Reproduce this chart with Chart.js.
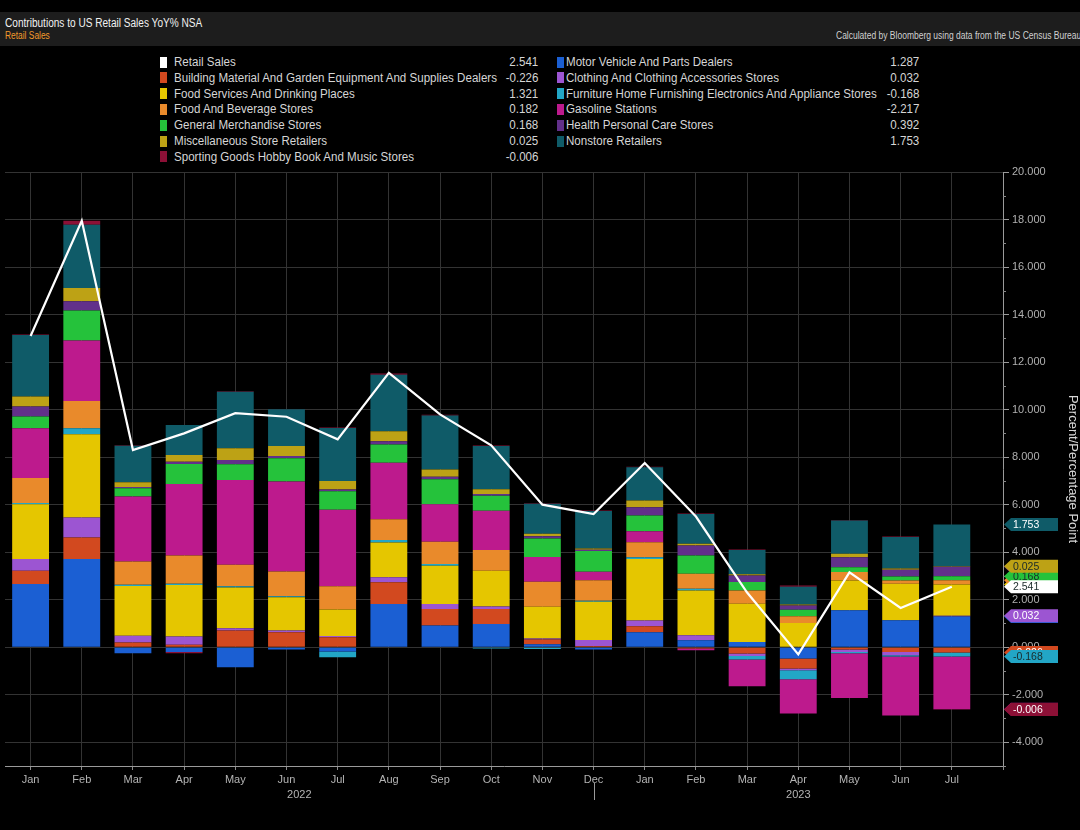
<!DOCTYPE html>
<html>
<head>
<meta charset="utf-8">
<script src="https://cdn.jsdelivr.net/npm/chart.js@4.4.0/dist/chart.umd.min.js"></script>
<style>
  html, body { margin: 0; padding: 0; background: #000; }
  #page { position: relative; width: 1080px; height: 830px; overflow: hidden; background: #000;
          font-family: 'Liberation Sans', Arial, sans-serif; }
  #head { position: absolute; left: 0; top: 12px; width: 1080px; height: 34px; background: #1d1d1d; overflow: hidden; }
  .narrow { display: inline-block; white-space: nowrap; transform-origin: left center; }
  #title { position: absolute; left: 5px; top: 4px; color: #f2f2f2; font-size: 12px; transform: scaleX(0.84); }
  #sub { position: absolute; left: 5px; top: 18px; color: #f39a2c; font-size: 10px; transform: scaleX(0.84); }
  #note { position: absolute; left: 836px; top: 18px; color: #d0d0d0; font-size: 10px; transform: scaleX(0.85); }
  .sw { position: absolute; width: 7px; height: 11px; }
  .lg { position: absolute; color: #d6d6d6; font-size: 12.5px; line-height: 14px; white-space: nowrap; }
  .lg.val { transform-origin: right center; }
  #box { position: absolute; left: 0; top: 160px; width: 1080px; height: 670px; }
</style>
</head>
<body>
<div id="page">
  <div id="head">
    <div id="title" class="narrow">Contributions to US Retail Sales YoY% NSA</div>
    <div id="sub" class="narrow">Retail Sales</div>
    <div id="note" class="narrow">Calculated by Bloomberg using data from the US Census Bureau</div>
  </div>
  <div id="legend"></div>
  <div id="box"><canvas id="chart"></canvas></div>
</div>
<script>
const FONT = "'Liberation Sans', Arial, sans-serif";

// Jan 2022 .. Jul 2023
const months = ["Jan", "Feb", "Mar", "Apr", "May", "Jun", "Jul", "Aug", "Sep", "Oct", "Nov", "Dec",
                "Jan", "Feb", "Mar", "Apr", "May", "Jun", "Jul"];
const years = ["2022", "2023"];
const yearBreak = 11; // Dec 2022

const retail    = [13.1, 17.95, 8.3, 9.0, 9.85, 9.7, 8.75, 11.55, 9.8, 8.5, 6.0, 5.6, 7.75, 5.5, 2.3, -0.3, 3.15, 1.65, 2.541];
const motor     = [2.66, 3.71, -0.25, -0.2, -0.84, -0.1, -0.18, 1.82, 0.91, 0.98, 0.12, -0.1, 0.63, 0.29, 0.22, -0.48, 1.55, 1.13, 1.287];
const building  = [0.56, 0.91, 0.2, 0.1, 0.70, 0.63, 0.42, 0.91, 0.70, 0.63, 0.2, 0.05, 0.25, -0.05, -0.27, -0.42, -0.1, -0.2, -0.226];
const clothing  = [0.49, 0.84, 0.28, 0.35, 0.1, 0.07, 0.05, 0.21, 0.21, 0.1, 0.05, 0.25, 0.24, 0.21, -0.1, -0.07, -0.1, -0.14, 0.032];
const foodServ  = [2.31, 3.50, 2.1, 2.17, 1.71, 1.40, 1.12, 1.47, 1.61, 1.51, 1.33, 1.61, 2.59, 1.89, 1.61, 1.02, 1.26, 1.54, 1.321];
const furniture = [0.05, 0.25, 0.05, 0.05, 0.05, 0.04, -0.24, 0.1, 0.07, -0.05, -0.08, 0.04, 0.08, 0.07, -0.15, -0.38, -0.05, -0.05, -0.168];
const foodBev   = [1.05, 1.15, 0.98, 1.19, 0.91, 1.05, 0.98, 0.87, 0.94, 0.87, 1.05, 0.87, 0.63, 0.63, 0.56, 0.28, 0.35, 0.14, 0.182];
const gasoline  = [2.10, 2.55, 2.73, 3.01, 3.57, 3.78, 3.22, 2.38, 1.58, 1.65, 1.05, 0.36, 0.46, -0.08, -1.12, -1.44, -1.89, -2.48, -2.217];
const general   = [0.49, 1.26, 0.35, 0.84, 0.66, 0.98, 0.77, 0.77, 1.05, 0.63, 0.77, 0.87, 0.66, 0.77, 0.35, 0.28, 0.21, 0.17, 0.168];
const health    = [0.42, 0.39, 0.05, 0.1, 0.18, 0.1, 0.08, 0.14, 0.1, 0.08, 0.1, 0.05, 0.35, 0.42, 0.28, 0.17, 0.42, 0.28, 0.392];
const misc      = [0.42, 0.56, 0.2, 0.28, 0.49, 0.42, 0.35, 0.42, 0.31, 0.2, 0.11, 0.05, 0.28, 0.07, 0.05, 0.05, 0.14, 0.05, 0.025];
const nonstore  = [2.59, 2.66, 1.54, 1.26, 2.38, 1.54, 2.24, 2.38, 2.27, 1.82, 1.26, 1.58, 1.40, 1.26, 1.02, 0.74, 1.40, 1.33, 1.753];
const sporting  = [0.02, 0.17, 0.02, -0.05, 0.02, 0.02, 0.02, 0.05, 0.03, 0.02, 0.02, 0.02, 0.02, 0.02, 0.02, 0.06, 0.02, 0.02, -0.006];

// stacking order = legend order (row by row)
const components = [
  { label: "Motor Vehicle And Parts Dealers", values: motor, color: "#1b5fd3" },
  { label: "Building Material And Garden Equipment And Supplies Dealers", values: building, color: "#d2491f" },
  { label: "Clothing And Clothing Accessories Stores", values: clothing, color: "#9c55d2" },
  { label: "Food Services And Drinking Places", values: foodServ, color: "#e5c600" },
  { label: "Furniture Home Furnishing Electronics And Appliance Stores", values: furniture, color: "#22a6c6" },
  { label: "Food And Beverage Stores", values: foodBev, color: "#e98a2b" },
  { label: "Gasoline Stations", values: gasoline, color: "#bd1a8d" },
  { label: "General Merchandise Stores", values: general, color: "#25c23b" },
  { label: "Health Personal Care Stores", values: health, color: "#62308a" },
  { label: "Miscellaneous Store Retailers", values: misc, color: "#bda215" },
  { label: "Nonstore Retailers", values: nonstore, color: "#0f5b68" },
  { label: "Sporting Goods Hobby Book And Music Stores", values: sporting, color: "#8c1036" },
];

// tags on the right axis, back to front (-1 = retail line)
const tagOrder = [0, 3, 5, 6, 8, 7, 1, 2, 9, 10, 4, 11, -1];
const darkText = ["#e5c600", "#22a6c6", "#e98a2b", "#25c23b", "#bda215", "#ffffff"];

const toPoints = arr => arr.map((v, i) => ({ x: i, y: v }));

// legend, two columns filled row by row
const legendItems = [{ label: "Retail Sales", values: retail, color: "#ffffff" }].concat(components);
const legendEl = document.getElementById("legend");
const legendText = [];
let buildingName = null;
legendItems.forEach((item, k) => {
  const row = Math.floor(k / 2), col = k % 2;
  const y = 62 + row * 15.8;
  const sw = document.createElement("div");
  sw.className = "sw";
  sw.style.left = (col === 0 ? 160 : 557) + "px";
  sw.style.top = (y - 5.5) + "px";
  sw.style.background = item.color;
  legendEl.appendChild(sw);

  const name = document.createElement("div");
  name.className = "lg narrow";
  name.style.left = (col === 0 ? 174 : 566) + "px";
  name.style.top = (y - 7) + "px";
  name.textContent = item.label;
  legendEl.appendChild(name);
  legendText.push(name);
  if (item.values === building) buildingName = name;

  const val = document.createElement("div");
  val.className = "lg narrow val";
  val.style.right = (1080 - (col === 0 ? 538 : 919)) + "px";
  val.style.top = (y - 7) + "px";
  val.textContent = item.values[item.values.length - 1].toFixed(3);
  legendEl.appendChild(val);
  legendText.push(val);
});
// squeeze to the condensed look of the original (longest name is ~323px wide there)
const squeeze = 323 / buildingName.getBoundingClientRect().width;
legendText.forEach(n => { n.style.transform = "scaleX(" + squeeze + ")"; });

const extras = {
  id: "extras",
  afterDraw(chart) {
    const ctx = chart.ctx;
    const xs = chart.scales.x, ys = chart.scales.y;
    const area = chart.chartArea;
    ctx.save();
    // minor ticks on the value axis
    ctx.strokeStyle = "#8a8a8a";
    ctx.lineWidth = 1;
    for (let v = -5; v <= 19; v += 2) {
      const py = Math.round(ys.getPixelForValue(v)) + 0.5;
      ctx.beginPath();
      ctx.moveTo(area.right, py);
      ctx.lineTo(area.right + 3, py);
      ctx.stroke();
    }
    // year labels + divider
    const xb = xs.getPixelForValue(yearBreak);
    ctx.strokeStyle = "#9a9a9a";
    ctx.beginPath();
    ctx.moveTo(Math.round(xb) + 0.5, area.bottom + 17);
    ctx.lineTo(Math.round(xb) + 0.5, area.bottom + 34);
    ctx.stroke();
    ctx.fillStyle = "#b4b4b4";
    ctx.font = "11px " + FONT;
    ctx.textAlign = "center";
    ctx.textBaseline = "middle";
    ctx.fillText(years[0], (area.left + xb) / 2, area.bottom + 29);
    ctx.fillText(years[1], (xb + area.right) / 2, area.bottom + 29);

    // last-value tags
    const last = months.length - 1;
    ctx.font = "10.5px " + FONT;
    ctx.textAlign = "left";
    tagOrder.forEach(k => {
      const dsIndex = k < 0 ? components.length : k;
      const ds = chart.data.datasets[dsIndex];
      const y = chart.getDatasetMeta(dsIndex).data[last].y;
      const fill = k < 0 ? "#ffffff" : ds.backgroundColor;
      const x0 = area.right + 1;
      ctx.fillStyle = fill;
      ctx.beginPath();
      ctx.moveTo(x0, y);
      ctx.lineTo(x0 + 7, y - 6.5);
      ctx.lineTo(x0 + 54, y - 6.5);
      ctx.lineTo(x0 + 54, y + 6.5);
      ctx.lineTo(x0 + 7, y + 6.5);
      ctx.closePath();
      ctx.fill();
      ctx.fillStyle = darkText.includes(fill) ? "#1a2a2a" : "#ffffff";
      ctx.fillText(ds.data[last].y.toFixed(3), x0 + 9, y + 0.5);
    });
    ctx.restore();
  }
};

const datasets = components.map(c => ({
  type: "bar",
  label: c.label,
  data: toPoints(c.values),
  backgroundColor: c.color,
  stack: "all",
  categoryPercentage: 0.72,
  barPercentage: 1,
}));
datasets.push({
  type: "line",
  label: "Retail Sales",
  data: toPoints(retail),
  borderColor: "#ffffff",
  borderWidth: 2.2,
  pointRadius: 0,
  tension: 0,
  order: -1,
});

new Chart(document.getElementById("chart"), {
  type: "bar",
  data: { datasets },
  options: {
    responsive: true,
    maintainAspectRatio: false,
    animation: false,
    layout: { padding: { top: 12, left: 5, right: 0, bottom: 0 } },
    scales: {
      x: {
        type: "linear",
        min: -0.5,
        max: 19,
        offset: false,
        grid: { color: "#333333", offset: false, tickLength: 4, tickColor: "#8a8a8a" },
        border: { color: "#9a9a9a" },
        ticks: {
          stepSize: 1,
          includeBounds: false,
          autoSkip: false,
          maxRotation: 0,
          color: "#b4b4b4",
          font: { family: FONT, size: 11 },
          padding: 3,
          callback: v => months[v] || "",
        },
        afterFit: s => { s.height = 64; },
      },
      y: {
        position: "right",
        stacked: true,
        min: -5,
        max: 20,
        grid: { color: "#333333", tickLength: 6, tickColor: "#9a9a9a" },
        border: { color: "#9a9a9a" },
        ticks: {
          stepSize: 2,
          includeBounds: false,
          color: "#b0b0b0",
          font: { family: FONT, size: 11 },
          padding: 3,
          callback: v => v.toFixed(3),
        },
        title: {
          display: true,
          text: "Percent/Percentage Point",
          color: "#d8d8d8",
          font: { family: FONT, size: 13 },
          padding: { top: 0, bottom: 6 },
        },
        afterFit: s => { s.width = 77; },
      },
    },
    plugins: {
      legend: { display: false },
      tooltip: { enabled: false },
    },
  },
  plugins: [extras],
});
</script>
</body>
</html>
